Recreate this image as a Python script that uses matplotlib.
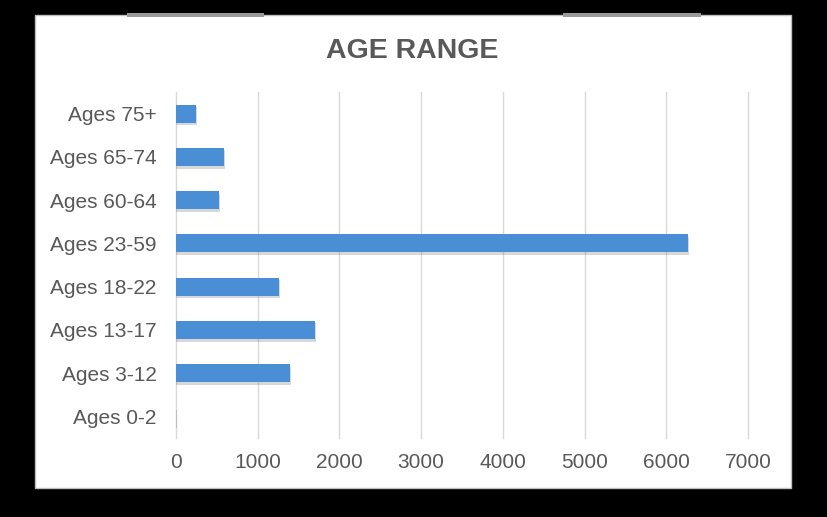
import matplotlib.pyplot as plt
from matplotlib.patches import Rectangle

categories = ["Ages 0-2", "Ages 3-12", "Ages 13-17", "Ages 18-22",
              "Ages 23-59", "Ages 60-64", "Ages 65-74", "Ages 75+"]
counts = [5, 1395, 1700, 1260, 6265, 525, 590, 245]
xticks = [0, 1000, 2000, 3000, 4000, 5000, 6000, 7000]

text_color = "#595959"
bar_color = "#4a8fd6"

plt.rcParams["font.family"] = ["Liberation Sans", "DejaVu Sans"]

fig = plt.figure(figsize=(8.27, 5.17), dpi=100, facecolor="black")

# white chart panel on the black page, plus the grey scraps at the top
fig.patches.append(Rectangle((0.0423, 0.0561), 0.9142, 0.915,
                             transform=fig.transFigure, facecolor="white",
                             edgecolor="#bfbfbf", linewidth=1, zorder=-2))
for x0, x1 in [(127, 264), (563, 701)]:
    fig.patches.append(Rectangle((x0 / 827, 0.968), (x1 - x0) / 827, 0.006,
                                 transform=fig.transFigure, facecolor="#9a9a9a",
                                 edgecolor="none", zorder=-2))

ax = fig.add_axes([0.2128, 0.1528, 0.6917, 0.6692])
ax.set_zorder(2)
ax.set_facecolor("none")

pos = list(range(len(categories)))
# soft shadow beneath each bar
ax.barh([p - 0.06 for p in pos], [c + 10 for c in counts], height=0.42,
        color="#7f7f7f", alpha=0.3, zorder=2)
ax.barh(pos, counts, height=0.42, color=bar_color, zorder=3)

ax.set_xlim(0, 7000)
ax.set_ylim(-0.5, len(categories) - 0.5)
ax.set_xticks(xticks)
ax.set_xticklabels([str(t) for t in xticks])
ax.set_yticks(pos)
ax.set_yticklabels(categories)

ax.grid(axis="x", color="#d9d9d9", linewidth=1, zorder=1)
ax.set_axisbelow(True)
for g in ax.get_xgridlines():
    g.set_clip_on(False)
for s in ax.spines.values():
    s.set_visible(False)
ax.tick_params(axis="x", length=0, pad=11, labelsize=15, labelcolor=text_color)
ax.tick_params(axis="y", length=0, pad=14, labelsize=15, labelcolor=text_color)

fig.text(0.498, 0.902, "AGE RANGE", ha="center", va="center",
         fontsize=20.5, fontweight="bold", color=text_color)

fig.savefig("out.png", dpi=100, facecolor="black")
